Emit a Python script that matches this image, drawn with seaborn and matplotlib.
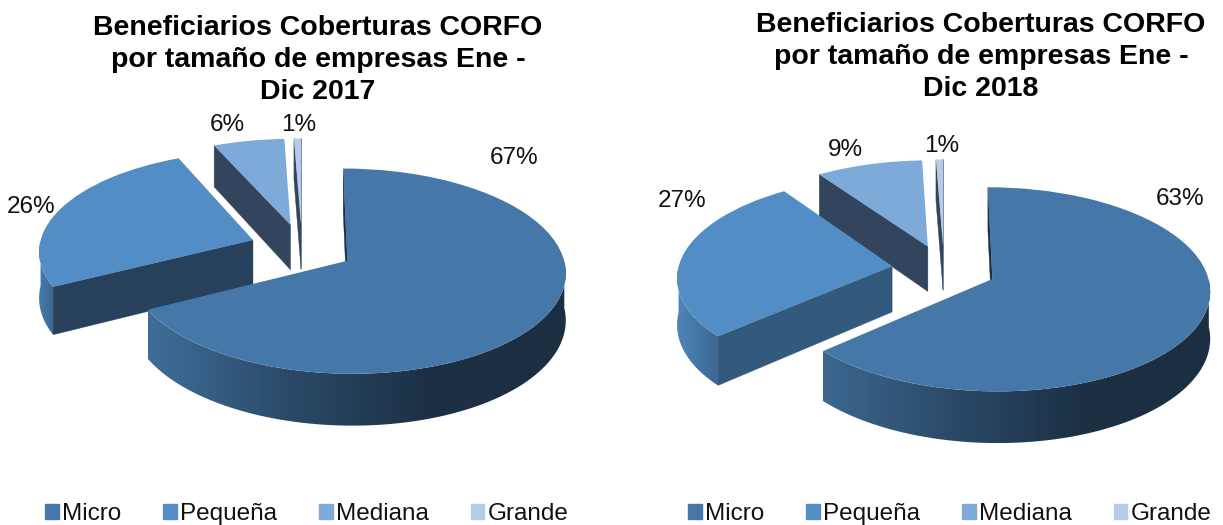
import numpy as np
import seaborn as sns
import matplotlib
matplotlib.use('Agg')
import matplotlib.pyplot as plt
from matplotlib.patches import Patch, Polygon
from matplotlib.path import Path
from matplotlib.transforms import Transform

segmentos = ['Micro', 'Pequeña', 'Mediana', 'Grande']
valores_2017 = [67.4, 26.0, 6.0, 0.6]
valores_2018 = [63.4, 27.0, 9.0, 0.6]
titulo_2017 = 'Beneficiarios Coberturas CORFO\npor tamaño de empresas Ene -\nDic 2017'
titulo_2018 = 'Beneficiarios Coberturas CORFO\npor tamaño de empresas Ene -\nDic 2018'

colores = ['#4577a8', '#528ec5', '#7eaad9', '#b5cce8']
caras_2017 = ['#1c3045', '#27415c', '#33455c', '#33455c']
caras_2018 = ['#1c3045', '#33597c', '#33455c', '#33455c']
bordes_2017 = [['#3f6e99', '#2b4a68', '#1c3044', '#1c2f42'], ['#4a7cac', '#3c6690'], ['#33455c', '#33455c'], ['#33455c', '#33455c']]
bordes_2018 = [['#3c678f', '#2b4a68', '#1c3044', '#1c2f42'], ['#4f86bb', '#3b6790'], ['#33455c', '#33455c'], ['#33455c', '#33455c']]

W, H = 1223, 525
KP = 0.1      # fuerza de la perspectiva
SX, SY = 214, 99
EXPLOTA = 0.245
DROP = 46 / SY


class Perspectiva(Transform):
    input_dims = 2
    output_dims = 2

    def transform_non_affine(self, values):
        x, y = np.asarray(values).T
        s = 1 / (1 + KP * y)
        return np.column_stack([x * s, y * s])


def proyecta(x, y, z=0.0):
    s = 1 / (1 + KP * np.asarray(y))
    return np.column_stack([np.asarray(x) * s, (np.asarray(y) - z) * s])


def cara(ax, poly, color, zorder):
    ax.add_patch(Polygon(poly, closed=True, fc=color, ec=color, lw=0.3, zorder=zorder))


def dibuja_torta(ax, valores, caras, bordes, cx, cy):
    wedges, _ = ax.pie(valores, colors=colores, startangle=90, counterclock=False,
                       explode=[EXPLOTA] * len(valores), wedgeprops={'linewidth': 0})
    persp = Perspectiva()
    orden = np.argsort([-w.center[1] for w in wedges])
    for z, i in enumerate(orden):
        w = wedges[i]
        base = 2 + 2 * z
        cxw, cyw = w.center
        th = np.radians(np.linspace(w.theta1, w.theta2, 240))
        borde_x, borde_y = cxw + np.cos(th), cyw + np.sin(th)
        contorno = Path(np.vstack([proyecta([cxw], [cyw]), proyecta(borde_x, borde_y)]))

        # caras radiales, solo las que miran hacia abajo
        for t in np.radians([w.theta1, w.theta2]):
            px, py = cxw + np.cos(t), cyw + np.sin(t)
            medio = proyecta([(cxw + px) / 2], [(cyw + py) / 2], 0.03)[0]
            if contorno.contains_point(medio):
                continue
            arriba = proyecta([cxw, px], [cyw, py])
            abajo = proyecta([px, cxw], [py, cyw], DROP)
            cara(ax, np.vstack([arriba, abajo]), caras[i], base)

        # borde frontal con degradado
        frente = np.sin(th) < 0
        if frente.any():
            arriba = proyecta(borde_x[frente], borde_y[frente])
            abajo = proyecta(borde_x[frente][::-1], borde_y[frente][::-1], DROP)
            poly = np.vstack([arriba, abajo])
            clip = Polygon(poly, closed=True, fc='none', ec='none', zorder=base)
            ax.add_patch(clip)
            cmap = sns.blend_palette(bordes[i], as_cmap=True)
            im = ax.imshow(np.linspace(0, 1, 256).reshape(1, -1), cmap=cmap, aspect='auto',
                           extent=(poly[:, 0].min(), poly[:, 0].max(), poly[:, 1].min(), poly[:, 1].max()),
                           zorder=base + 0.5)
            im.set_clip_path(clip)

        w.set_transform(persp + ax.transData)
        w.set_zorder(base + 1)

    ax.set_aspect('auto')
    ax.set_xlim(-cx / SX, (W / 2 - cx) / SX)
    ax.set_ylim((cy - H) / SY, cy / SY)


sns.set_theme(style='white', font='Liberation Sans')
fig = plt.figure(figsize=(W / 100, H / 100), dpi=100, facecolor='white')
ax1 = fig.add_axes([0, 0, 0.5, 1])
ax2 = fig.add_axes([0.5, 0, 0.5, 1])
dibuja_torta(ax1, valores_2017, caras_2017, bordes_2017, 302, 248)
dibuja_torta(ax2, valores_2018, caras_2018, bordes_2018, 944 - W / 2, 269)

etiquetas_2017 = [(514, 158), (31, 207), (227, 125), (299, 125)]
etiquetas_2018 = [(1180, 199), (682, 201), (845, 150), (942, 146)]
for vals, pos in [(valores_2017, etiquetas_2017), (valores_2018, etiquetas_2018)]:
    for v, (px, py) in zip(vals, pos):
        fig.text(px / W, 1 - py / H, f'{v:.0f}%', ha='center', va='center', fontsize=17.5, color='#111111')

fig.text(318 / W, 1 - 60 / H, titulo_2017, ha='center', va='center', fontsize=20.5,
         fontweight='bold', color='black', linespacing=1.3)
fig.text(981 / W, 1 - 57 / H, titulo_2018, ha='center', va='center', fontsize=20.5,
         fontweight='bold', color='black', linespacing=1.3)

handles = [Patch(color=c, label=s) for c, s in zip(colores, segmentos)]
for centro in (307, 950):
    fig.legend(handles=handles, ncol=4, loc='center', bbox_to_anchor=(centro / W, 1 - 514 / H),
               frameon=False, fontsize=17.5, handlelength=0.55, handleheight=0.6,
               handletextpad=0.15, columnspacing=1.72, labelcolor='#111111')

fig.savefig('out.png', dpi=100)
